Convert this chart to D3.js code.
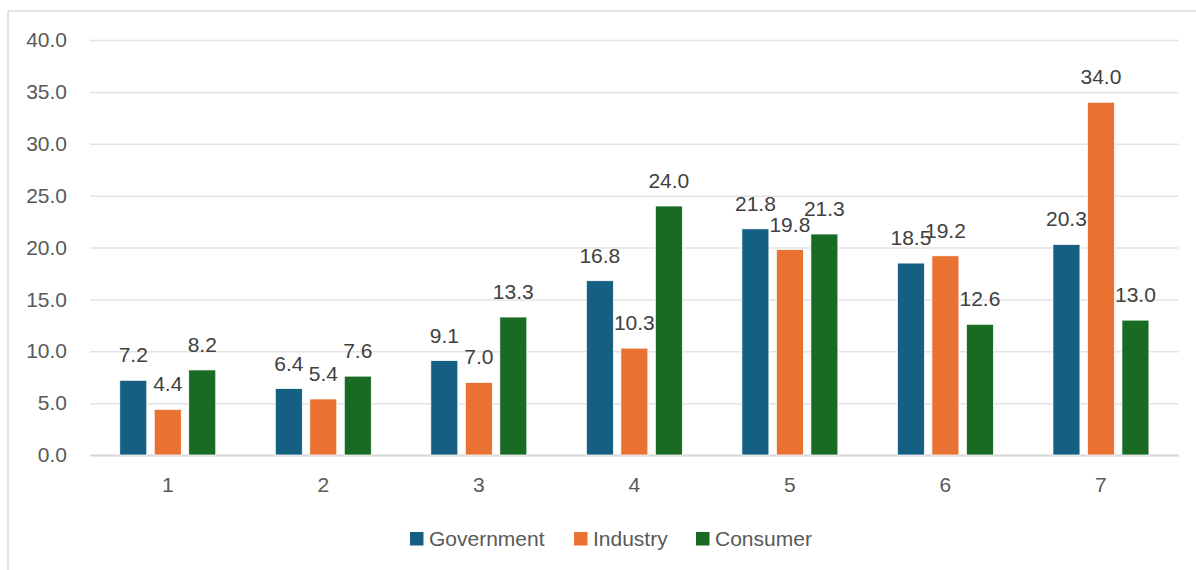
<!DOCTYPE html>
<html>
<head>
<meta charset="utf-8">
<script src="https://cdn.jsdelivr.net/npm/d3@7"></script>
<style>
  html, body { margin: 0; padding: 0; background: #fff; }
  svg { display: block; font-family: "Liberation Sans", Arial, sans-serif; }
</style>
</head>
<body>
<svg id="chart" width="1196" height="570"></svg>
<script>
// Category labels along the x axis
const categories = ["1", "2", "3", "4", "5", "6", "7"];
// Series names and their values per category
const seriesNames = ["Government", "Industry", "Consumer"];
const government = [7.2, 6.4, 9.1, 16.8, 21.8, 18.5, 20.3];
const industry   = [4.4, 5.4, 7.0, 10.3, 19.8, 19.2, 34.0];
const consumer   = [8.2, 7.6, 13.3, 24.0, 21.3, 12.6, 13.0];
// Y axis tick values
const yTicks = [0, 5, 10, 15, 20, 25, 30, 35, 40];

const seriesValues = [government, industry, consumer];
const colors = ["#156082", "#E97132", "#196B24"];

const svg = d3.select("#chart");
const W = 1196, H = 570;

// Outer chart frame (top and left edges visible)
svg.append("line").attr("x1", 8).attr("x2", W).attr("y1", 11).attr("y2", 11)
  .attr("stroke", "#d9d9d9").attr("stroke-width", 1.5);
svg.append("line").attr("x1", 8).attr("x2", 8).attr("y1", 11).attr("y2", H)
  .attr("stroke", "#d9d9d9").attr("stroke-width", 1.5);

const plot = { left: 90, right: 1178.7, top: 40, bottom: 455 };

const x0 = d3.scaleBand().domain(categories).range([plot.left, plot.right]).padding(0);
const groupW = 96;
const x1 = d3.scaleBand().domain(seriesNames).range([-groupW / 2, groupW / 2])
  .paddingInner(0.217).paddingOuter(0);
const y = d3.scaleLinear().domain([0, 40]).range([plot.bottom, plot.top]);

// Horizontal gridlines
const yAxis = d3.axisLeft(y).tickValues(yTicks).tickFormat(d3.format(".1f"))
  .tickSize(-(plot.right - plot.left)).tickPadding(23);
const gy = svg.append("g").attr("transform", `translate(${plot.left},0)`).call(yAxis);
gy.select(".domain").remove();
gy.selectAll(".tick line").attr("stroke", "#e3e3e3").attr("stroke-width", 1.5);
gy.selectAll(".tick text").attr("fill", "#595959").attr("font-size", 21)
  .attr("font-family", "Liberation Sans, Arial, sans-serif");

// Category axis (baseline)
const xAxis = d3.axisBottom(x0).tickSize(0).tickPadding(22);
const gx = svg.append("g").attr("transform", `translate(0,${plot.bottom})`).call(xAxis);
gx.select(".domain").attr("stroke", "#d9d9d9").attr("stroke-width", 2);
gx.selectAll(".tick text").attr("fill", "#595959").attr("font-size", 21)
  .attr("font-family", "Liberation Sans, Arial, sans-serif");

// Bars and value labels
const rows = categories.map((c, i) => ({
  cat: c,
  items: seriesNames.map((s, k) => ({ s, k, v: seriesValues[k][i] }))
}));

const groups = svg.append("g").selectAll("g").data(rows).join("g")
  .attr("transform", d => `translate(${x0(d.cat) + x0.bandwidth() / 2},0)`);

groups.selectAll("rect").data(d => d.items).join("rect")
  .attr("x", d => x1(d.s))
  .attr("width", x1.bandwidth())
  .attr("y", d => y(d.v))
  .attr("height", d => y(0) - y(d.v))
  .attr("fill", d => colors[d.k])
  .attr("stroke", "#ffffff").attr("stroke-width", 0.75);

groups.selectAll("text.val").data(d => d.items).join("text")
  .attr("class", "val")
  .attr("x", d => x1(d.s) + x1.bandwidth() / 2)
  .attr("y", d => y(d.v) - 18)
  .attr("text-anchor", "middle")
  .attr("fill", "#404040").attr("font-size", 21)
  .text(d => d3.format(".1f")(d.v));

// Legend
const legendX = [410, 574, 696];
const legend = svg.append("g").selectAll("g").data(seriesNames).join("g")
  .attr("transform", (d, i) => `translate(${legendX[i]},0)`);
legend.append("rect").attr("x", 0).attr("y", 532).attr("width", 13.5).attr("height", 13.5)
  .attr("fill", (d, i) => colors[i]);
legend.append("text").attr("x", 19).attr("y", 545.5)
  .attr("fill", "#595959").attr("font-size", 21).text(d => d);
</script>
</body>
</html>
